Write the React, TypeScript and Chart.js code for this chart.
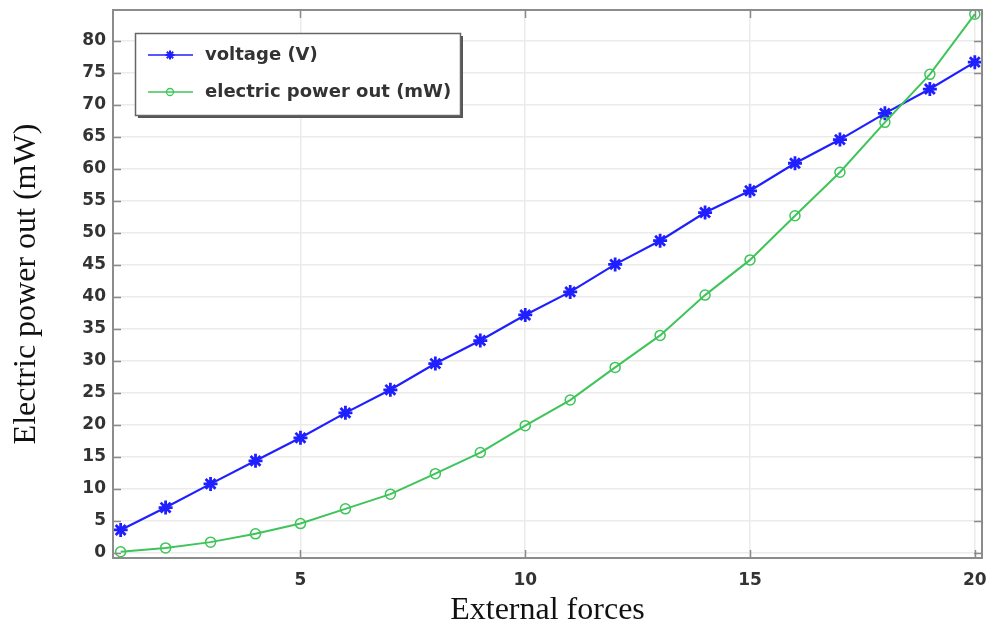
import React, { useEffect, useRef } from "react";
import { Chart, registerables } from "chart.js";

Chart.register(...registerables);

const X_VALUES = [1, 2, 3, 4, 5, 6, 7, 8, 9, 10, 11, 12, 13, 14, 15, 16, 17, 18, 19, 20];
const VOLTAGE = [3.6, 7.1, 10.8, 14.4, 18.0, 21.9, 25.5, 29.6, 33.2, 37.2, 40.8, 45.1, 48.8, 53.2, 56.6, 60.9, 64.6, 68.7, 72.5, 76.7];
const POWER = [0.2, 0.8, 1.7, 3.0, 4.6, 6.9, 9.2, 12.4, 15.7, 19.9, 23.9, 29.0, 34.0, 40.3, 45.8, 52.7, 59.5, 67.3, 74.8, 84.2];
const X_TICKS = [5, 10, 15, 20];
const Y_TICKS = [0, 5, 10, 15, 20, 25, 30, 35, 40, 45, 50, 55, 60, 65, 70, 75, 80];
const SERIES_NAMES = ["voltage (V)", "electric power out (mW)"];
const X_TITLE = "External forces";
const Y_TITLE = "Electric power out (mW)";

const BLUE = "#1f1fff";
const GREEN = "#3fc45a";
const TICK_FONT = { family: "'DejaVu Sans'", size: 17, weight: "bold" as const };
const TITLE_FONT = { family: "'Liberation Serif'", size: 32, lineHeight: 1 };

const zeroPad = (s: any) => {
  s.paddingTop = 0;
  s.paddingBottom = 0;
  s.paddingLeft = 0;
  s.paddingRight = 0;
};

const framePlugin = {
  id: "frame",
  afterDatasetsDraw(chart: any) {
    const { ctx, chartArea } = chart;
    const { left, right, top, bottom } = chartArea;
    const xs = chart.scales.x;
    const ys = chart.scales.y;
    ctx.save();
    ctx.strokeStyle = "#8a8a8a";
    ctx.lineWidth = 1.5;
    ctx.beginPath();
    xs.ticks.forEach((t: any) => {
      const px = Math.round(xs.getPixelForValue(t.value)) + 0.5;
      ctx.moveTo(px, bottom);
      ctx.lineTo(px, bottom - 8);
      ctx.moveTo(px, top);
      ctx.lineTo(px, top + 8);
    });
    ys.ticks.forEach((t: any) => {
      const py = Math.round(ys.getPixelForValue(t.value)) + 0.5;
      ctx.moveTo(left, py);
      ctx.lineTo(left + 8, py);
      ctx.moveTo(right, py);
      ctx.lineTo(right - 8, py);
    });
    ctx.stroke();
    ctx.strokeStyle = "#8c8c8c";
    ctx.lineWidth = 2;
    ctx.strokeRect(left, top, right - left, bottom - top);
    ctx.restore();
  },
  afterDraw(chart: any) {
    const { ctx } = chart;
    const bx = 135, by = 33, bw = 325, bh = 82;
    ctx.save();
    ctx.fillStyle = "#555";
    ctx.fillRect(bx + 3, by + 3, bw, bh);
    ctx.fillStyle = "#ffffff";
    ctx.fillRect(bx, by, bw, bh);
    ctx.strokeStyle = "#666";
    ctx.lineWidth = 1.5;
    ctx.strokeRect(bx + 0.5, by + 0.5, bw, bh);
    const rows = [
      { y: 55, color: BLUE, name: SERIES_NAMES[0], star: true },
      { y: 92, color: GREEN, name: SERIES_NAMES[1], star: false },
    ];
    rows.forEach((r) => {
      ctx.strokeStyle = r.color;
      ctx.lineWidth = 1.5;
      ctx.beginPath();
      ctx.moveTo(148, r.y);
      ctx.lineTo(193, r.y);
      ctx.stroke();
      if (r.star) {
        ctx.lineWidth = 2;
        ctx.beginPath();
        const s = 4.5;
        for (let i = 0; i < 4; i++) {
          const a = (i * Math.PI) / 4;
          ctx.moveTo(170 - s * Math.cos(a), r.y - s * Math.sin(a));
          ctx.lineTo(170 + s * Math.cos(a), r.y + s * Math.sin(a));
        }
        ctx.stroke();
      } else {
        ctx.lineWidth = 1.3;
        ctx.beginPath();
        ctx.arc(170, r.y, 3.5, 0, Math.PI * 2);
        ctx.stroke();
      }
      ctx.fillStyle = "#333";
      ctx.font = "bold 18px 'DejaVu Sans'";
      ctx.textBaseline = "middle";
      ctx.textAlign = "left";
      ctx.fillText(r.name, 205, r.y);
    });
    ctx.restore();
  },
};

export default function App() {
  const ref = useRef<HTMLCanvasElement>(null);
  useEffect(() => {
    if (!ref.current) return;
    const chart = new Chart(ref.current, {
      type: "line",
      data: {
        datasets: [
          {
            label: SERIES_NAMES[0],
            data: X_VALUES.map((x, i) => ({ x, y: VOLTAGE[i] })),
            borderColor: BLUE,
            backgroundColor: BLUE,
            borderWidth: 2.2,
            pointStyle: "star",
            pointRadius: 7,
            pointBorderWidth: 2.8,
            pointBorderColor: BLUE,
            tension: 0,
            order: 1,
          },
          {
            label: SERIES_NAMES[1],
            data: X_VALUES.map((x, i) => ({ x, y: POWER[i] })),
            borderColor: GREEN,
            backgroundColor: "rgba(0,0,0,0)",
            borderWidth: 2,
            pointStyle: "circle",
            pointRadius: 5,
            pointBorderWidth: 1.5,
            pointBorderColor: GREEN,
            pointBackgroundColor: "rgba(0,0,0,0)",
            tension: 0,
            order: 0,
          },
        ],
      },
      options: {
        responsive: false,
        animation: false,
        layout: { padding: { left: 0, top: 10, right: 10, bottom: 0 } },
        plugins: { legend: { display: false }, tooltip: { enabled: false } },
        scales: {
          x: {
            type: "linear",
            min: 0.83,
            max: 20.16,
            afterBuildTicks: (s: any) => {
              s.ticks = X_TICKS.map((v) => ({ value: v }));
            },
            afterFit: (s: any) => {
              s.height = 69;
              zeroPad(s);
            },
            grid: { color: "#ebebeb", lineWidth: 1.5, drawTicks: false },
            border: { display: false },
            ticks: { color: "#333", font: TICK_FONT, padding: 12, maxRotation: 0 },
            title: {
              display: true,
              text: X_TITLE,
              color: "#111",
              font: TITLE_FONT,
              padding: { top: 0, bottom: 0 },
            },
          },
          y: {
            type: "linear",
            min: -0.78,
            max: 84.85,
            afterBuildTicks: (s: any) => {
              s.ticks = Y_TICKS.map((v) => ({ value: v }));
            },
            afterFit: (s: any) => {
              s.width = 113;
              zeroPad(s);
            },
            grid: { color: "#ebebeb", lineWidth: 1.5, drawTicks: false },
            border: { display: false },
            ticks: { color: "#333", font: TICK_FONT, padding: 7 },
            title: {
              display: true,
              text: Y_TITLE,
              color: "#111",
              font: TITLE_FONT,
              padding: { top: 11, bottom: 0 },
            },
          },
        },
      },
      plugins: [framePlugin],
    });
    return () => chart.destroy();
  }, []);
  return (
    <div style={{ position: "fixed", left: 0, top: 0, width: 992, height: 627, background: "#fff" }}>
      <canvas ref={ref} width={992} height={627} />
    </div>
  );
}
